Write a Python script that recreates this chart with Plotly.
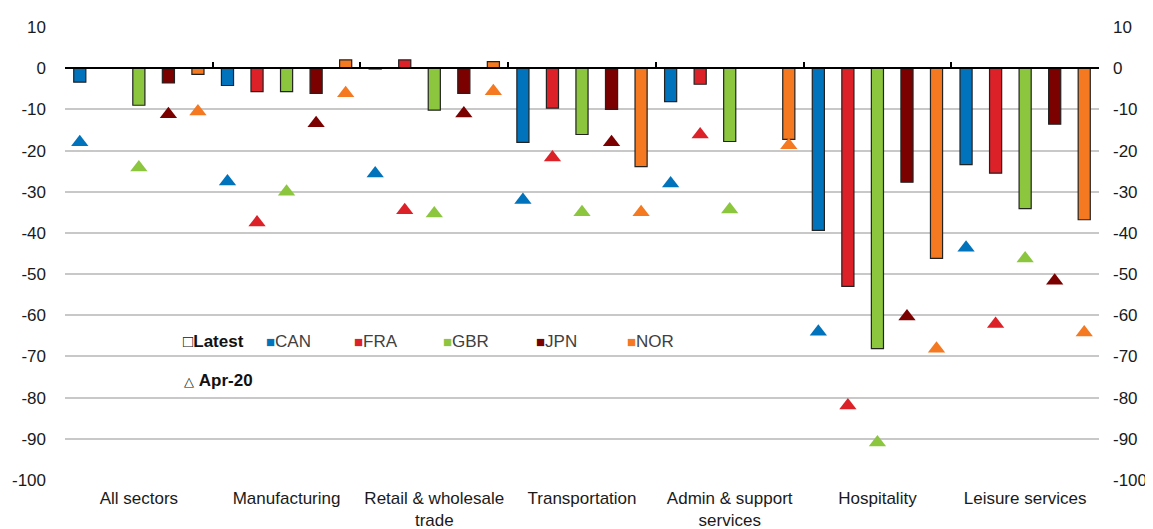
import plotly.graph_objects as go

# Sectors (x categories)
sectors = ["All sectors", "Manufacturing", "Retail & wholesale<br>trade", "Transportation",
           "Admin & support<br>services", "Hospitality", "Leisure services"]
countries = ["CAN", "FRA", "GBR", "JPN", "NOR"]
colors = ["#0173BD", "#DC2228", "#8CC63F", "#7B0000", "#F47920"]

# Latest (bars)
can_latest = [-3.4, -4.2, -0.2, -18.0, -8.1, -39.4, -23.4]
fra_latest = [None, -5.7, 2.0, -9.7, -3.9, -53.0, -25.5]
gbr_latest = [-9.0, -5.7, -10.2, -16.1, -17.8, -68.1, -34.1]
jpn_latest = [-3.6, -6.1, -6.1, -10.0, None, -27.7, -13.6]
nor_latest = [-1.5, 2.0, 1.6, -23.9, -17.3, -46.2, -36.8]

# Apr-20 (triangles)
can_apr = [-18.0, -27.5, -25.6, -32.0, -28.0, -64.0, -43.6]
fra_apr = [None, -37.5, -34.5, -21.7, -16.1, -81.9, -62.1]
gbr_apr = [-24.1, -30.0, -35.3, -35.0, -34.3, -90.9, -46.2]
jpn_apr = [-11.2, -13.4, -11.0, -18.0, None, -60.3, -51.6]
nor_apr = [-10.5, -6.1, -5.6, -35.0, -18.7, -68.1, -64.2]

latest = [can_latest, fra_latest, gbr_latest, jpn_latest, nor_latest]
apr20 = [can_apr, fra_apr, gbr_apr, jpn_apr, nor_apr]

yticks = list(range(10, -101, -10))
ylabels = [str(v) for v in yticks]  # plain hyphen minus, as in the original

FONT = "Liberation Sans, Arial, sans-serif"
TXT = "#1a1a1a"

# the page body has an 8px margin, so the figure is drawn 8px smaller
W, H = 1145, 521
L, T, PW, PH = 57, 19, 1034, 453

fig = go.Figure()

for name, col, vals in zip(countries, colors, latest):
    fig.add_trace(go.Bar(
        x=sectors, y=vals, name=name, offsetgroup=name,
        marker=dict(color=col, line=dict(color="#222222", width=1.2)),
        showlegend=False,
    ))

for name, col, vals in zip(countries, colors, apr20):
    fig.add_trace(go.Scatter(
        x=sectors, y=vals, name=name + " Apr-20", offsetgroup=name,
        mode="markers", marker=dict(symbol="triangle-up", size=15, color=col),
        showlegend=False,
    ))

# dummy traces so the right axis and the zero-line axis are drawn
fig.add_trace(go.Scatter(x=sectors[:1], y=[None], yaxis="y2", showlegend=False, hoverinfo="skip"))
fig.add_trace(go.Scatter(x=sectors[:1], y=[None], xaxis="x2", showlegend=False, hoverinfo="skip"))

fig.update_layout(
    width=W, height=H,
    margin=dict(l=L, r=W - L - PW, t=T, b=H - T - PH),
    paper_bgcolor="white", plot_bgcolor="white",
    barmode="group", bargap=0, bargroupgap=0.59,
    scattermode="group", scattergap=0,
    font=dict(family=FONT, size=17, color=TXT),
    xaxis=dict(
        type="category", categoryarray=sectors, range=[-0.5, 6.5], automargin=False,
        showline=False, showgrid=False, ticks="", zeroline=False, ticklabelstandoff=6,
        tickfont=dict(size=17, color=TXT),
    ),
    xaxis2=dict(
        type="category", categoryarray=sectors, range=[-0.5, 6.5], automargin=False,
        overlaying="x", anchor="free", position=100 / 110,
        showline=True, linecolor="black", linewidth=1.5,
        ticks="inside", tickson="boundaries", ticklen=5, tickwidth=1.5, tickcolor="black",
        showticklabels=False, showgrid=False, zeroline=False,
    ),
    yaxis=dict(
        range=[-100, 10], tickvals=yticks, ticktext=ylabels, automargin=False,
        showgrid=True, gridcolor="#C8C8C8", gridwidth=1.5,
        zeroline=False, showline=False, ticks="", ticklabelstandoff=18,
        tickfont=dict(size=17, color=TXT),
    ),
    yaxis2=dict(
        range=[-100, 10], tickvals=yticks, ticktext=ylabels, automargin=False,
        overlaying="y", side="right",
        showgrid=False, zeroline=False, showline=False, ticks="", ticklabelstandoff=13,
        tickfont=dict(size=17, color=TXT),
    ),
)

# custom legend (positions given in page pixels of the original)
ann = []
ann.append(dict(x=181, y=341, text="□<b>Latest</b>"))
ann.append(dict(x=182, y=380, text="<span style='font-size:13px'>△</span> <b>Apr-20</b>"))
leg_x = [264, 352, 441, 534, 625]
for name, col, lx in zip(countries, colors, leg_x):
    ann.append(dict(x=lx, y=341, text=f"<span style='color:{col};font-size:15px'>■</span>{name}",
                    font=dict(size=17, color="#404040")))
for a in ann:
    fig.add_annotation(
        xref="paper", yref="paper",
        x=(a["x"] - 8 - L) / PW, y=1 - (a["y"] - 8 - T) / PH,
        xanchor="left", yanchor="middle", showarrow=False,
        text=a["text"], font=a.get("font", dict(size=17, color="#111111")),
    )

fig.write_html("out.html")
